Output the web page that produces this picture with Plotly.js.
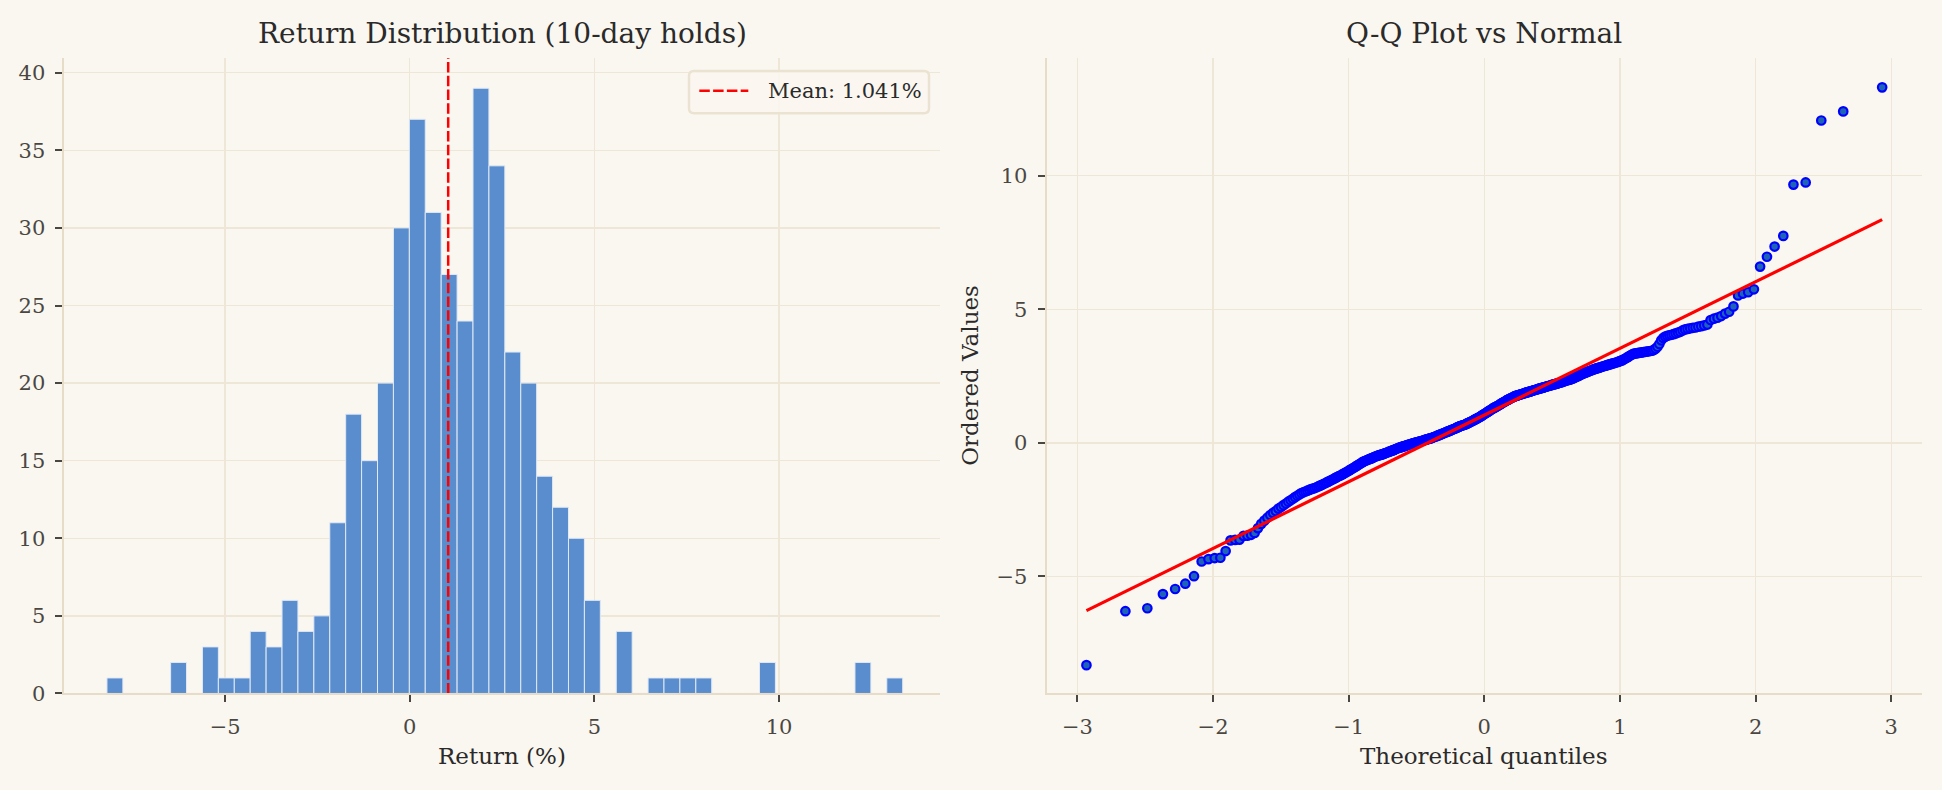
<!DOCTYPE html>
<html>
<head>
<meta charset="utf-8">
<script src="https://cdn.plot.ly/plotly-3.0.1.min.js"></script>
<style>
html,body{margin:0;padding:0;background:#faf7f0;}
#chart{width:1942px;height:790px;}
</style>
</head>
<body>
<div id="chart"></div>
<script>
// ---------------- data ----------------
const binStart = -8.2;
const binWidth = 0.431;
const binCounts = [1,0,0,0,2,0,3,1,1,4,3,6,4,5,11,18,15,20,30,37,31,27,24,39,34,22,20,14,12,10,6,0,4,0,1,1,1,1,0,0,0,2,0,0,0,0,0,2,0,1];
const meanReturn = 1.041;
const meanLabel = "Mean: 1.041%";

const orderedValues = [
-8.32,-6.30,-6.19,-5.66,-5.47,-5.27,-4.99,-4.44,-4.35,-4.31,-4.30,-4.05,-3.65,-3.63,-3.62,-3.48,-3.47,-3.44,-3.37,-3.19,
-3.03,-2.91,-2.80,-2.70,-2.62,-2.55,-2.46,-2.40,-2.33,-2.27,-2.20,-2.15,-2.09,-2.03,-1.98,-1.93,-1.88,-1.85,-1.82,-1.79,
-1.76,-1.73,-1.71,-1.69,-1.66,-1.63,-1.60,-1.57,-1.54,-1.51,-1.48,-1.45,-1.42,-1.39,-1.36,-1.33,-1.30,-1.27,-1.24,-1.22,
-1.19,-1.16,-1.13,-1.10,-1.07,-1.04,-1.01,-0.98,-0.95,-0.92,-0.89,-0.86,-0.83,-0.80,-0.77,-0.74,-0.71,-0.69,-0.67,-0.65,
-0.63,-0.61,-0.60,-0.58,-0.56,-0.54,-0.52,-0.50,-0.49,-0.47,-0.46,-0.45,-0.44,-0.42,-0.41,-0.39,-0.38,-0.36,-0.35,-0.33,
-0.32,-0.30,-0.29,-0.27,-0.26,-0.24,-0.22,-0.21,-0.19,-0.18,-0.17,-0.16,-0.14,-0.13,-0.12,-0.11,-0.10,-0.08,-0.07,-0.06,
-0.05,-0.04,-0.03,-0.02,-0.01,0.00,0.01,0.02,0.03,0.04,0.05,0.06,0.07,0.08,0.09,0.10,0.11,0.12,0.13,0.14,
0.15,0.16,0.17,0.18,0.19,0.20,0.22,0.23,0.24,0.25,0.27,0.28,0.29,0.31,0.32,0.33,0.35,0.36,0.37,0.39,
0.40,0.41,0.42,0.44,0.45,0.46,0.48,0.49,0.50,0.52,0.53,0.54,0.56,0.57,0.59,0.60,0.62,0.63,0.64,0.65,
0.66,0.67,0.68,0.69,0.71,0.72,0.74,0.75,0.77,0.78,0.80,0.81,0.83,0.85,0.86,0.88,0.90,0.91,0.93,0.95,
0.96,0.98,1.00,1.02,1.04,1.06,1.08,1.10,1.12,1.14,1.16,1.18,1.20,1.22,1.24,1.26,1.28,1.30,1.32,1.33,
1.35,1.37,1.38,1.40,1.42,1.44,1.46,1.48,1.50,1.52,1.53,1.55,1.57,1.59,1.61,1.62,1.64,1.66,1.67,1.69,
1.70,1.72,1.73,1.75,1.76,1.77,1.78,1.79,1.80,1.81,1.82,1.83,1.84,1.85,1.86,1.87,1.88,1.89,1.90,1.91,
1.92,1.93,1.94,1.95,1.96,1.97,1.98,1.99,2.00,2.01,2.02,2.03,2.04,2.05,2.06,2.07,2.08,2.09,2.10,2.11,
2.12,2.13,2.14,2.15,2.16,2.17,2.18,2.19,2.20,2.21,2.22,2.23,2.24,2.25,2.26,2.27,2.28,2.30,2.31,2.33,
2.34,2.35,2.36,2.37,2.38,2.39,2.40,2.42,2.44,2.46,2.48,2.50,2.51,2.53,2.55,2.57,2.59,2.61,2.62,2.64,
2.66,2.67,2.69,2.70,2.72,2.74,2.75,2.77,2.78,2.80,2.81,2.82,2.84,2.85,2.87,2.88,2.89,2.91,2.92,2.94,
2.95,2.97,2.98,2.99,3.01,3.02,3.04,3.06,3.08,3.10,3.13,3.16,3.19,3.22,3.26,3.29,3.32,3.34,3.35,3.36,
3.37,3.38,3.39,3.40,3.41,3.42,3.43,3.44,3.45,3.48,3.53,3.60,3.70,3.84,3.93,3.98,4.01,4.03,4.05,4.07,
4.10,4.13,4.16,4.21,4.25,4.27,4.29,4.31,4.32,4.35,4.37,4.40,4.43,4.60,4.65,4.69,4.75,4.84,4.91,5.11,
5.52,5.59,5.64,5.75,6.60,6.97,7.35,7.75,9.67,9.75,12.07,12.41,13.31
];
const fitSlope = 2.495;
const fitIntercept = 1.041;

const histXTicks = [-5, 0, 5, 10];
const histYTicks = [0, 5, 10, 15, 20, 25, 30, 35, 40];
const qqXTicks = [-3, -2, -1, 0, 1, 2, 3];
const qqYTicks = [-5, 0, 5, 10];

const histTitle = "Return Distribution (10-day holds)";
const histXLabel = "Return (%)";
const qqTitle = "Q-Q Plot vs Normal";
const qqXLabel = "Theoretical quantiles";
const qqYLabel = "Ordered Values";

// ---------------- helpers ----------------
function fmt(v){ return v < 0 ? "\u2212" + Math.abs(v) : String(v); }
function normInv(p){
  const a=[-3.969683028665376e+01,2.209460984245205e+02,-2.759285104469687e+02,1.383577518672690e+02,-3.066479806614716e+01,2.506628277459239e+00];
  const b=[-5.447609879822406e+01,1.615858368580409e+02,-1.556989798598866e+02,6.680131188771972e+01,-1.328068155288572e+01];
  const c=[-7.784894002430293e-03,-3.223964580411365e-01,-2.400758277161838e+00,-2.549732539343734e+00,4.374664141464968e+00,2.938163982698783e+00];
  const d=[7.784695709041462e-03,3.224671290700398e-01,2.445134137142996e+00,3.754408661907416e+00];
  const pl=0.02425, ph=1-pl; let q,r;
  if(p<pl){q=Math.sqrt(-2*Math.log(p));return (((((c[0]*q+c[1])*q+c[2])*q+c[3])*q+c[4])*q+c[5])/((((d[0]*q+d[1])*q+d[2])*q+d[3])*q+1);}
  if(p<=ph){q=p-0.5;r=q*q;return (((((a[0]*r+a[1])*r+a[2])*r+a[3])*r+a[4])*r+a[5])*q/(((((b[0]*r+b[1])*r+b[2])*r+b[3])*r+b[4])*r+1);}
  q=Math.sqrt(-2*Math.log(1-p));return -(((((c[0]*q+c[1])*q+c[2])*q+c[3])*q+c[4])*q+c[5])/((((d[0]*q+d[1])*q+d[2])*q+d[3])*q+1);
}
// theoretical quantiles (Filliben order statistic medians, as scipy.stats.probplot)
const n = orderedValues.length;
const theo = orderedValues.map((_, i) => {
  let m;
  if (i === n - 1) m = Math.pow(0.5, 1 / n);
  else if (i === 0) m = 1 - Math.pow(0.5, 1 / n);
  else m = (i + 1 - 0.3175) / (n + 0.365);
  return normInv(m);
});

const binCenters = binCounts.map((_, k) => binStart + (k + 0.5) * binWidth);
const histYMax = Math.max(...binCounts) * 1.05;

// ---------------- style ----------------
const W = 1942, H = 790;
const BG = "#faf7f0";
const GRID = "#eee7d8";
const SPINE = "#e6dcc8";
const TICKC = "#4a4743";
const TXT = "#2a2a2a";
const FONT = "DejaVu Serif, Liberation Serif, serif";
const MEAN_DASH = "10.5px,3.3px";

const traces = [
  {
    type: "bar", x: binCenters, y: binCounts, width: binWidth,
    marker: {color: "#598dce", line: {color: "#e1e9f4", width: 1}},
    xaxis: "x", yaxis: "y", showlegend: false, hoverinfo: "skip"
  },
  {
    type: "scatter", mode: "lines", x: [meanReturn, meanReturn], y: [0, histYMax],
    line: {color: "#ff0000", width: 2.5, dash: MEAN_DASH},
    name: meanLabel, xaxis: "x", yaxis: "y", showlegend: false
  },
  {
    type: "scatter", mode: "markers", x: theo, y: orderedValues,
    marker: {size: 8.5, color: "#1f63b4", line: {color: "#0000ff", width: 2.2}},
    xaxis: "x2", yaxis: "y2", showlegend: false
  },
  {
    type: "scatter", mode: "lines",
    x: [theo[0], theo[n - 1]],
    y: [fitSlope * theo[0] + fitIntercept, fitSlope * theo[n - 1] + fitIntercept],
    line: {color: "#ff0000", width: 3.2},
    xaxis: "x2", yaxis: "y2", showlegend: false
  }
];

function axisBase(extra){
  return Object.assign({
    showgrid: true, gridcolor: GRID, gridwidth: 1.3,
    zeroline: false, showline: true, linecolor: SPINE, linewidth: 2,
    ticks: "outside", ticklen: 7, tickwidth: 2, tickcolor: TICKC,
    tickfont: {family: FONT, size: 21, color: TICKC},
    tickmode: "array", ticklabelstandoff: 6
  }, extra);
}

// legend box (pixel layout -> paper coords)
const px = v => v / W, py = v => 1 - v / H;
const lg = {x0: 689, x1: 929, y0: 71, y1: 113.3, r: 5};
function roundRect(b){
  const rx = b.r / W, ry = b.r / H;
  const L = px(b.x0), R = px(b.x1), T = py(b.y0), B = py(b.y1);
  return `M ${L+rx} ${T} L ${R-rx} ${T} Q ${R} ${T} ${R} ${T-ry} L ${R} ${B+ry} Q ${R} ${B} ${R-rx} ${B} ` +
         `L ${L+rx} ${B} Q ${L} ${B} ${L} ${B+ry} L ${L} ${T-ry} Q ${L} ${T} ${L+rx} ${T} Z`;
}

const yDom = [0.1222, 0.9266];
const layout = {
  width: W, height: H,
  paper_bgcolor: BG, plot_bgcolor: BG,
  margin: {l: 0, r: 0, t: 0, b: 0},
  bargap: 0,
  showlegend: false,
  xaxis: axisBase({domain: [0.03321, 0.48404], range: [-9.35, 14.36], anchor: "y",
    tickvals: histXTicks, ticktext: histXTicks.map(fmt)}),
  yaxis: axisBase({domain: yDom, range: [0, histYMax], anchor: "x",
    tickvals: histYTicks, ticktext: histYTicks.map(fmt)}),
  xaxis2: axisBase({domain: [0.53893, 0.98970], range: [-3.227, 3.227], anchor: "y2",
    tickvals: qqXTicks, ticktext: qqXTicks.map(fmt)}),
  yaxis2: axisBase({domain: yDom, range: [-9.38, 14.41], anchor: "x2",
    tickvals: qqYTicks, ticktext: qqYTicks.map(fmt)}),
  shapes: [
    {type: "path", xref: "paper", yref: "paper", path: roundRect(lg),
     fillcolor: "rgba(250,247,240,0.85)", line: {color: "#ebe3d1", width: 2.5}, layer: "above"},
    {type: "line", xref: "paper", yref: "paper", x0: px(699.3), x1: px(748.3), y0: py(90.7), y1: py(90.7),
     line: {color: "#ff0000", width: 2.5, dash: MEAN_DASH}, layer: "above"}
  ],
  annotations: [
    {text: meanLabel, xref: "paper", yref: "paper", x: px(766), y: py(91.5), xanchor: "left", yanchor: "middle",
     showarrow: false, font: {family: FONT, size: 21, color: TXT}},
    {text: histTitle, xref: "paper", yref: "paper", x: 0.2586, y: 0.958, xanchor: "center", yanchor: "middle",
     showarrow: false, font: {family: FONT, size: 28, color: TXT}},
    {text: qqTitle, xref: "paper", yref: "paper", x: 0.7643, y: 0.958, xanchor: "center", yanchor: "middle",
     showarrow: false, font: {family: FONT, size: 28, color: TXT}},
    {text: histXLabel, xref: "paper", yref: "paper", x: 0.2586, y: 0.043, xanchor: "center", yanchor: "middle",
     showarrow: false, font: {family: FONT, size: 23, color: TXT}},
    {text: qqXLabel, xref: "paper", yref: "paper", x: 0.7643, y: 0.043, xanchor: "center", yanchor: "middle",
     showarrow: false, font: {family: FONT, size: 23, color: TXT}},
    {text: qqYLabel, xref: "paper", yref: "paper", x: 0.4995, y: 0.5244, xanchor: "center", yanchor: "middle",
     textangle: -90, showarrow: false, font: {family: FONT, size: 23, color: TXT}}
  ]
};

Plotly.newPlot("chart", traces, layout, {displayModeBar: false, staticPlot: true});
</script>
</body>
</html>
